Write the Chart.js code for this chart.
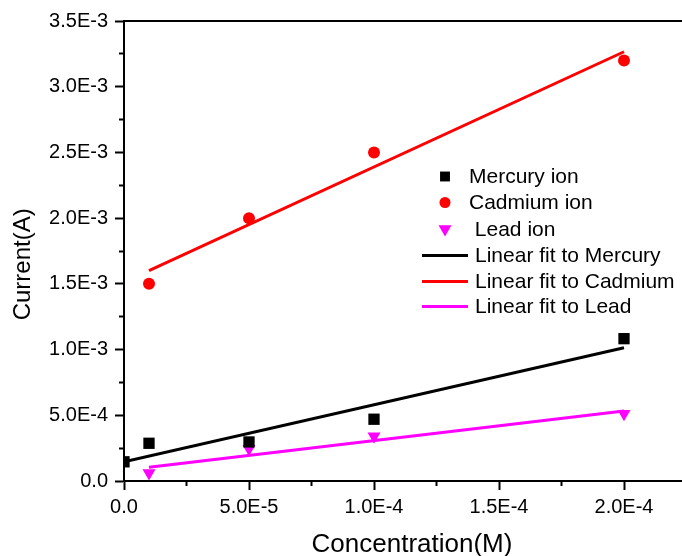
<!DOCTYPE html>
<html>
<head>
<meta charset="utf-8">
<title>Current vs concentration</title>
<script src="https://cdn.jsdelivr.net/npm/chart.js@4/dist/chart.umd.min.js"></script>
<style>
  html, body { margin: 0; padding: 0; background: #fff; overflow: hidden; }
  canvas { display: block; }
</style>
</head>
<body>
<canvas id="chart" width="708" height="560"></canvas>
<script>
// measured points (concentration in M, current in A)
const concentration = [0, 1e-5, 5e-5, 1e-4, 2e-4];
const cadmiumConc = [1e-5, 5e-5, 1e-4, 2e-4];
const leadConc = [1e-5, 5e-5, 1e-4, 2e-4];

const mercuryCurrent = [1.46e-4, 2.87e-4, 2.97e-4, 4.7e-4, 1.083e-3];
const cadmiumCurrent = [1.5e-3, 2.0e-3, 2.5e-3, 3.2e-3];
const leadCurrent = [6e-5, 2.45e-4, 3.4e-4, 5.12e-4];

// fitted lines, end points
const mercuryFitX = [0, 2e-4];
const mercuryFitY = [1.47e-4, 1.014e-3];
const cadmiumFitX = [1e-5, 2e-4];
const cadmiumFitY = [1.6e-3, 3.266e-3];
const leadFitX = [1e-5, 2e-4];
const leadFitY = [1.04e-4, 5.33e-4];

// axis ticks
const xTicks = [0, 5e-5, 1e-4, 1.5e-4, 2e-4];
const xTickLabels = ['0.0', '5.0E-5', '1.0E-4', '1.5E-4', '2.0E-4'];
const xMinorTicks = [2.5e-5, 7.5e-5, 1.25e-4, 1.75e-4, 2.25e-4];
const yTicks = [0, 5e-4, 1e-3, 1.5e-3, 2e-3, 2.5e-3, 3e-3, 3.5e-3];
const yTickLabels = ['0.0', '5.0E-4', '1.0E-3', '1.5E-3', '2.0E-3', '2.5E-3', '3.0E-3', '3.5E-3'];
const yMinorTicks = [2.5e-4, 7.5e-4, 1.25e-3, 1.75e-3, 2.25e-3, 2.75e-3, 3.25e-3];

const X_MIN = 0, X_MAX = 2.304e-4;
const Y_MIN = 0, Y_MAX = 3.5e-3;

function pairs(xs, ys) {
    return xs.map((x, i) => ({ x: x, y: ys[i] }));
}

function fixedTicks(values) {
    return function (scale) {
        scale.ticks = values.map(v => ({ value: v }));
    };
}

const FONT = "'Liberation Sans', Arial, sans-serif";

// legend drawn inside the plot, like the original
const insideLegend = {
    id: 'insideLegend',
    afterDraw(chart) {
        const ctx = chart.ctx;
        const rows = [176.5, 202.5, 229, 255.5, 281.5, 306.5];
        ctx.save();
        ctx.font = '21px ' + FONT;
        ctx.textBaseline = 'middle';
        ctx.textAlign = 'left';
        chart.data.datasets.forEach((ds, i) => {
            const y = rows[i];
            if (ds.showLine) {
                ctx.strokeStyle = ds.borderColor;
                ctx.lineWidth = 3;
                ctx.beginPath();
                ctx.moveTo(422, y);
                ctx.lineTo(468, y);
                ctx.stroke();
                ctx.fillStyle = '#000';
                ctx.fillText(ds.label, 475, y + 1);
            } else {
                ctx.fillStyle = ds.backgroundColor;
                Chart.helpers.drawPoint(ctx, {
                    pointStyle: ds.pointStyle,
                    rotation: ds.rotation || 0,
                    radius: ds.legendRadius,
                    borderWidth: 0
                }, 445, y);
                ctx.fillStyle = '#000';
                ctx.fillText(ds.label, 469, y + 1);
            }
        });
        ctx.restore();
    }
};

const majorGrid = {
    drawOnChartArea: false,
    drawTicks: true,
    tickLength: 9,
    tickWidth: 2,
    tickColor: '#000'
};
const minorGrid = {
    drawOnChartArea: false,
    drawTicks: true,
    tickLength: 5,
    tickWidth: 2,
    tickColor: '#000'
};

new Chart(document.getElementById('chart'), {
    type: 'scatter',
    data: {
        datasets: [
            {
                label: 'Mercury ion',
                data: pairs(concentration, mercuryCurrent),
                pointStyle: 'rect',
                pointRadius: 8,
                legendRadius: 7,
                backgroundColor: '#000000',
                borderWidth: 0
            },
            {
                label: 'Cadmium ion',
                data: pairs(cadmiumConc, cadmiumCurrent),
                pointStyle: 'circle',
                pointRadius: 6,
                legendRadius: 5.5,
                backgroundColor: '#ff0000',
                borderWidth: 0
            },
            {
                label: ' Lead ion',
                data: pairs(leadConc, leadCurrent),
                pointStyle: 'triangle',
                rotation: 180,
                pointRotation: 180,
                pointRadius: 7.5,
                legendRadius: 7.5,
                backgroundColor: '#ff00ff',
                borderWidth: 0
            },
            {
                label: 'Linear fit to Mercury',
                data: pairs(mercuryFitX, mercuryFitY),
                showLine: true,
                borderColor: '#000000',
                borderWidth: 3,
                pointRadius: 0
            },
            {
                label: 'Linear fit to Cadmium',
                data: pairs(cadmiumFitX, cadmiumFitY),
                showLine: true,
                borderColor: '#ff0000',
                borderWidth: 3,
                pointRadius: 0
            },
            {
                label: 'Linear fit to Lead',
                data: pairs(leadFitX, leadFitY),
                showLine: true,
                borderColor: '#ff00ff',
                borderWidth: 3,
                pointRadius: 0
            }
        ]
    },
    options: {
        responsive: false,
        animation: false,
        devicePixelRatio: 1,
        layout: { padding: 0 },
        plugins: {
            legend: { display: false },
            tooltip: { enabled: false }
        },
        scales: {
            x: {
                type: 'linear',
                position: 'bottom',
                weight: 1,
                min: X_MIN,
                max: X_MAX,
                afterBuildTicks: fixedTicks(xTicks),
                afterFit: s => { s.height = 79; },
                grid: majorGrid,
                border: { display: true, color: '#000', width: 2 },
                ticks: {
                    color: '#000',
                    padding: 5,
                    maxRotation: 0,
                    autoSkip: false,
                    font: { family: FONT, size: 20 },
                    callback: (v, i) => xTickLabels[i]
                },
                title: {
                    display: true,
                    text: 'Concentration(M)',
                    color: '#000',
                    padding: { top: 0, bottom: 0 },
                    font: { family: FONT, size: 26 }
                }
            },
            xMinor: {
                type: 'linear',
                position: 'bottom',
                weight: 0,
                min: X_MIN,
                max: X_MAX,
                afterBuildTicks: fixedTicks(xMinorTicks),
                afterFit: s => { s.height = 0; },
                grid: minorGrid,
                border: { display: false },
                ticks: { display: false }
            },
            xTop: {
                type: 'linear',
                position: 'top',
                min: X_MIN,
                max: X_MAX,
                afterFit: s => { s.height = 21; },
                grid: { drawOnChartArea: false, drawTicks: false },
                border: { display: true, color: '#000', width: 2 },
                ticks: { display: false }
            },
            y: {
                type: 'linear',
                position: 'left',
                weight: 1,
                min: Y_MIN,
                max: Y_MAX,
                afterBuildTicks: fixedTicks(yTicks),
                afterFit: s => { s.width = 124; },
                grid: majorGrid,
                border: { display: true, color: '#000', width: 2 },
                ticks: {
                    color: '#000',
                    padding: 7,
                    autoSkip: false,
                    font: { family: FONT, size: 20 },
                    callback: (v, i) => yTickLabels[i]
                },
                title: {
                    display: true,
                    text: 'Current(A)    ',
                    color: '#000',
                    padding: { top: 9, bottom: 0 },
                    font: { family: FONT, size: 24 }
                }
            },
            yMinor: {
                type: 'linear',
                position: 'left',
                weight: 0,
                min: Y_MIN,
                max: Y_MAX,
                afterBuildTicks: fixedTicks(yMinorTicks),
                afterFit: s => { s.width = 0; },
                grid: minorGrid,
                border: { display: false },
                ticks: { display: false }
            }
        }
    },
    plugins: [insideLegend]
});
</script>
</body>
</html>
